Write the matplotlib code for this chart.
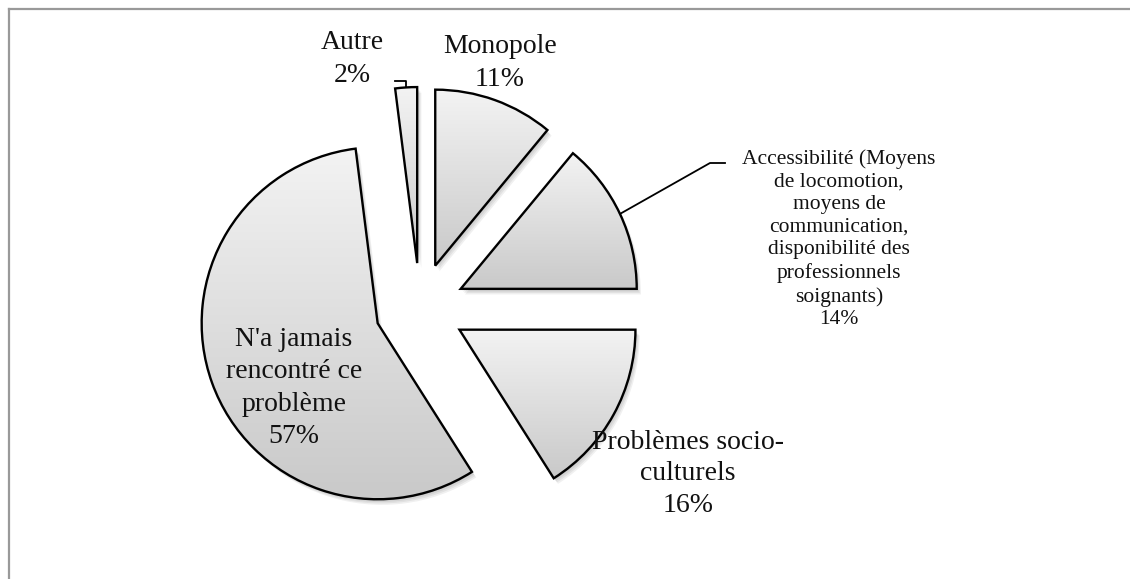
import numpy as np
import matplotlib.pyplot as plt
from matplotlib.patches import Wedge
from matplotlib.colors import LinearSegmentedColormap

# DATA
labels = [
    "Monopole",
    "Accessibilité (Moyens\nde locomotion,\nmoyens de\ncommunication,\ndisponibilité des\nprofessionnels\nsoignants)",
    "Problèmes socio-\nculturels",
    "N'a jamais\nrencontré ce\nproblème",
    "Autre",
]
values = [11, 14, 16, 57, 2]

# LAYOUT (pixels)
W, H = 1130, 579
CX, CY, R = 420, 308, 176
EXPLODE = 45 / R
label_pos = [(500, 63), (839, 239), (688, 474), (294, 388), (352, 59)]
label_size = [20, 15.5, 20, 20, 20]
label_spacing = [1.37, 1.26, 1.34, 1.38, 1.37]
FONT = "Liberation Serif"


def px(x, y):
    # pixel position -> data units (pie radius = 1)
    return (x - CX) / R, (CY - y) / R


fig = plt.figure(figsize=(W / 100, H / 100), dpi=100)
ax = fig.add_axes([0, 0, 1, 1])

wedges, _ = ax.pie(values, startangle=90, counterclock=False,
                   explode=[EXPLODE] * len(values), radius=1,
                   colors=["none"] * len(values),
                   wedgeprops=dict(edgecolor="black", linewidth=1.7))

grad = LinearSegmentedColormap.from_list("g", ["#c9c9c9", "#f3f3f3"])
gimg = np.linspace(0, 1, 256).reshape(-1, 1)

for w in wedges:
    w.set_zorder(3)
    bb = w.get_path().get_extents(w.get_patch_transform())
    im = ax.imshow(gimg, cmap=grad, origin="lower", aspect="auto",
                   extent=[bb.x0, bb.x1, bb.y0, bb.y1], zorder=2)
    im.set_clip_path(w)
    # soft shadow
    for k in range(1, 5):
        sh = Wedge((w.center[0] + 0.006 * k, w.center[1] - 0.008 * k), w.r,
                   w.theta1, w.theta2, facecolor="black", edgecolor="none",
                   alpha=0.06, zorder=1)
        ax.add_patch(sh)

for lab, v, pos, fs, ls in zip(labels, values, label_pos, label_size, label_spacing):
    x, y = px(*pos)
    ax.text(x, y, f"{lab}\n{v}%", ha="center", va="center", fontsize=fs,
            family=FONT, linespacing=ls, color="#111111", zorder=5)


def arc_mid(w):
    t = np.deg2rad((w.theta1 + w.theta2) / 2)
    return w.center[0] + w.r * np.cos(t), w.center[1] + w.r * np.sin(t)


# leader lines
mx, my = arc_mid(wedges[1])
ex, ey = px(710, 163)
fx, _ = px(725, 163)
ax.plot([mx, ex, fx], [my, ey, ey], color="black", lw=1.3, zorder=4)

mx, my = arc_mid(wedges[4])
_, ty = px(0, 81)
lx, _ = px(395, 81)
ax.plot([mx, mx, lx], [my, ty, ty], color="black", lw=1.3, zorder=4)

ax.set_aspect("equal")
ax.set_xlim(-CX / R, (W - CX) / R)
ax.set_ylim((CY - H) / R, CY / R)
ax.axis("off")

# chart area border
fig.add_artist(plt.Line2D([8.5 / W, 8.5 / W], [0, 1 - 9 / H], transform=fig.transFigure,
                          color="#999999", lw=1.6))
fig.add_artist(plt.Line2D([8.5 / W, 1], [1 - 9 / H, 1 - 9 / H], transform=fig.transFigure,
                          color="#999999", lw=1.6))

fig.savefig("out.png", dpi=100)
